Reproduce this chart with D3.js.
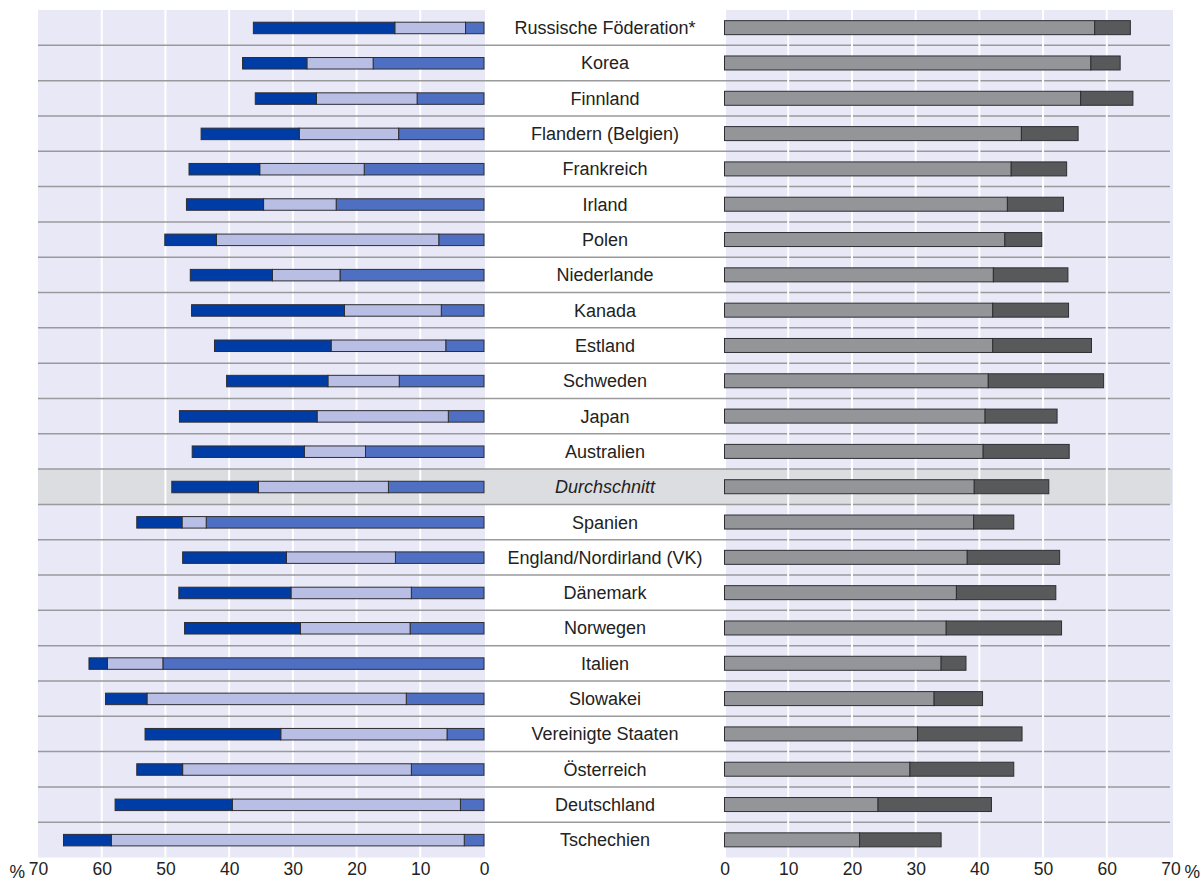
<!DOCTYPE html>
<html><head><meta charset="utf-8">
<script src="https://cdn.jsdelivr.net/npm/d3@7"></script>
<style>body{margin:0;background:#fff;} svg{display:block;}</style>
</head><body>
<svg id="c" width="1202" height="881"></svg>
<script>
const categories = ["Russische Föderation*","Korea","Finnland","Flandern (Belgien)","Frankreich","Irland","Polen","Niederlande","Kanada","Estland","Schweden","Japan","Australien","Durchschnitt","Spanien","England/Nordirland (VK)","Dänemark","Norwegen","Italien","Slowakei","Vereinigte Staaten","Österreich","Deutschland","Tschechien"];
// left panel segments, from 0 outward
const leftInner  = [2.9,17.4,10.5,13.4,18.8,23.2,7.1,22.6,6.7,6.0,13.3,5.6,18.6,15.0,43.6,13.9,11.4,11.6,50.4,12.2,5.8,11.4,3.7,3.1];
const leftMiddle = [11.1,10.4,15.8,15.6,16.4,11.4,34.9,10.6,15.2,18.0,11.2,20.6,9.6,20.4,3.8,17.1,18.9,17.2,8.7,40.7,26.1,35.9,35.8,55.4];
const leftOuter  = [22.2,10.1,9.6,15.4,11.1,12.1,8.1,12.9,24.0,18.3,15.9,21.6,17.6,13.6,7.1,16.3,17.6,18.2,2.9,6.5,21.3,7.2,18.4,7.5];
// right panel segments
const rightFirst  = [58.1,57.5,55.9,46.6,45.0,44.4,44.0,42.2,42.1,42.1,41.4,40.9,40.6,39.2,39.1,38.1,36.4,34.8,34.0,32.9,30.3,29.1,24.1,21.2];
const rightSecond = [5.6,4.6,8.2,8.9,8.7,8.8,5.8,11.7,11.9,15.5,18.1,11.3,13.5,11.7,6.3,14.5,15.6,18.1,3.9,7.6,16.4,16.3,17.8,12.8];
const tickValues = [0,10,20,30,40,50,60,70];
const highlight = "Durchschnitt";

const svg = d3.select("#c");
const xl = d3.scaleLinear().domain([0,70]).range([484,38]);
const xr = d3.scaleLinear().domain([0,70]).range([724.5,1170.5]);
const y = d3.scaleBand().domain(categories).range([10,857.5]).padding(0);

const leftColors = ["#4f6fc3","#b8bee4","#003ca5"];
const rightColors = ["#949599","#58595b"];
const bg = "#e8e8f6";
const font = "Liberation Sans, Arial, sans-serif";

// backgrounds
svg.append("rect").attr("x",xl(70)).attr("y",10).attr("width",xl(0)-xl(70)+1).attr("height",847.5).attr("fill",bg);
svg.append("rect").attr("x",xr(0)+1.5).attr("y",10).attr("width",xr(70)-xr(0)+1).attr("height",847.5).attr("fill",bg);
// highlight row
svg.append("rect").attr("x",38).attr("y",y(highlight)).attr("width",1172-38).attr("height",y.bandwidth()).attr("fill","#dcdde0");

// left gridlines
const grid = tickValues.filter(d=>d>0&&d<70);
svg.append("g").selectAll("line").data(grid).join("line")
  .attr("x1",d=>xl(d)).attr("x2",d=>xl(d)).attr("y1",10).attr("y2",857.5)
  .attr("stroke","#fff").attr("stroke-width",2);

// separators
svg.append("g").selectAll("line").data(categories.slice(1)).join("line")
  .attr("x1",38).attr("x2",1170).attr("y1",d=>y(d)).attr("y2",d=>y(d))
  .attr("stroke","#9a9a9c").attr("stroke-width",1.5);

// right gridlines (drawn over separators)
svg.append("g").selectAll("line").data(grid).join("line")
  .attr("x1",d=>xr(d)).attr("x2",d=>xr(d)).attr("y1",10).attr("y2",857.5)
  .attr("stroke","#fff").attr("stroke-width",2);

// left bars
const leftSeries = [leftInner,leftMiddle,leftOuter];
const lh = 11.5;
categories.forEach((c,i)=>{
  let acc = 0;
  leftSeries.forEach((s,k)=>{
    const a = acc, b = acc + s[i];
    svg.append("rect").attr("x",xl(b)).attr("width",xl(a)-xl(b))
      .attr("y",y(c)+y.bandwidth()/2-lh/2+0.3).attr("height",lh)
      .attr("fill",leftColors[k]).attr("stroke","#2e2e33").attr("stroke-width",1);
    acc = b;
  });
});
// right bars
const rightSeries = [rightFirst,rightSecond];
const rh = 14;
categories.forEach((c,i)=>{
  let acc = 0;
  rightSeries.forEach((s,k)=>{
    const a = acc, b = acc + s[i];
    svg.append("rect").attr("x",xr(a)).attr("width",xr(b)-xr(a))
      .attr("y",y(c)+y.bandwidth()/2-rh/2).attr("height",rh)
      .attr("fill",rightColors[k]).attr("stroke","#2e2e33").attr("stroke-width",1);
    acc = b;
  });
});

// labels
svg.append("g").selectAll("text").data(categories).join("text")
  .attr("x",605).attr("y",d=>y(d)+y.bandwidth()/2).attr("dy","0.36em")
  .attr("text-anchor","middle").attr("font-family",font)
  .attr("font-size",18).attr("fill","#222")
  .attr("font-style",d=>d===highlight?"italic":"normal")
  .text(d=>d);

// axes
const fs = 17.5;
const axL = svg.append("g").attr("transform","translate(0,861)")
  .call(d3.axisBottom(xl).tickValues(tickValues).tickSize(0).tickPadding(2));
const axR = svg.append("g").attr("transform","translate(0,861)")
  .call(d3.axisBottom(xr).tickValues(tickValues).tickSize(0).tickPadding(2));
[axL,axR].forEach(a=>{
  a.select(".domain").remove();
  a.selectAll("text").attr("font-family",font).attr("font-size",fs).attr("fill","#222");
});
svg.append("text").attr("x",xl(70)-13).attr("y",878).attr("text-anchor","end")
  .attr("font-family",font).attr("font-size",fs).attr("fill","#222").text("%");
svg.append("text").attr("x",xr(70)+14).attr("y",878).attr("text-anchor","start")
  .attr("font-family",font).attr("font-size",fs).attr("fill","#222").text("%");
</script>
</body></html>
